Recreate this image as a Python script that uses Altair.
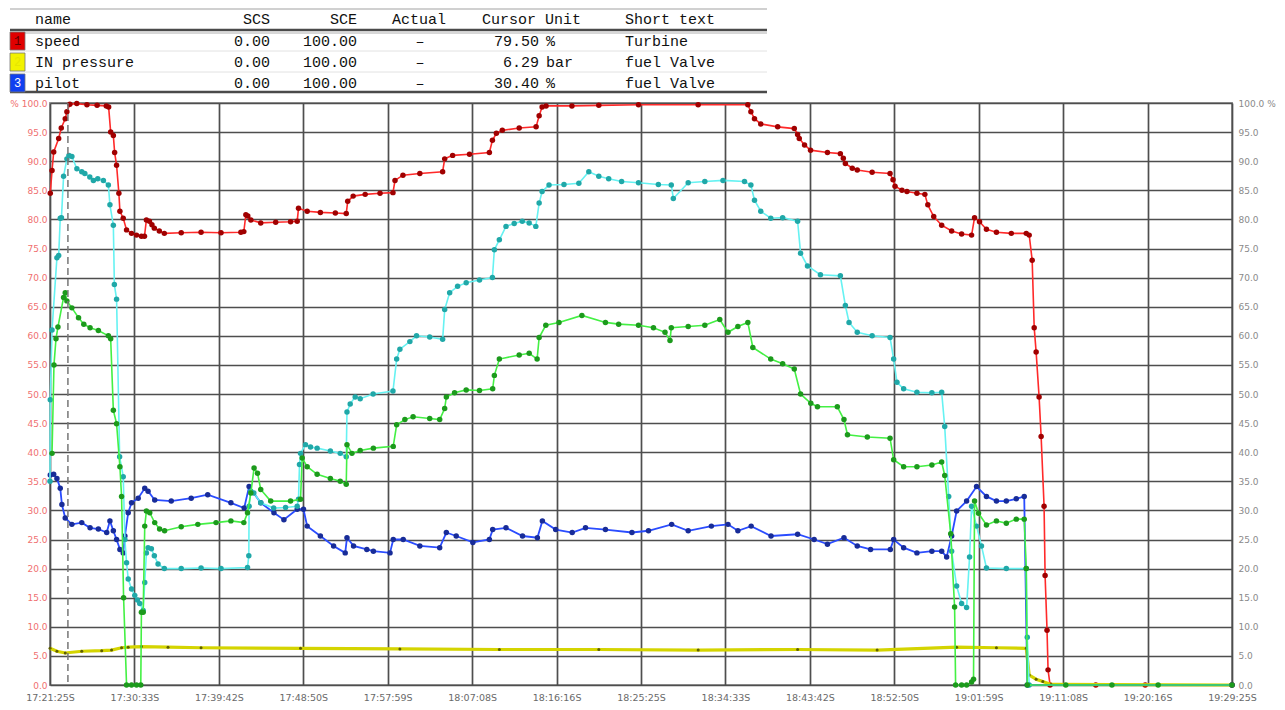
import altair as alt
import pandas as pd

# ---------------- axis / table text ----------------
x_tick_labels = ["17:21:25S", "17:30:33S", "17:39:42S", "17:48:50S", "17:57:59S",
                 "18:07:08S", "18:16:16S", "18:25:25S", "18:34:33S", "18:43:42S",
                 "18:52:50S", "19:01:59S", "19:11:08S", "19:20:16S", "19:29:25S"]
t_total = 128.0          # minutes from 17:21:25 to 19:29:25
cursor_t = 1.94          # dashed cursor position (minutes)

table_header = ["name", "SCS", "SCE", "Actual", "Cursor Unit", "Short text"]
table_names = ["speed", "IN pressure", "pilot"]
table_scs = ["0.00", "0.00", "0.00"]
table_sce = ["100.00", "100.00", "100.00"]
table_actual = ["–", "–", "–"]
table_cursor = ["79.50", "6.29", "30.40"]
table_unit = ["%", "bar", "%"]
table_short = ["Turbine", "fuel Valve", "fuel Valve"]
table_swatch = ["#e00000", "#f2f200", "#1040f0"]
table_swatch_txt = ["#5a0000", "#e6e600", "#ffffff"]

# ---------------- series (time in minutes after 17:21:25, value in %) ----------------
speed_t = [0.03, 0.22, 0.40, 0.94, 1.22, 1.65, 1.83, 2.15, 2.9, 4.0, 5.1, 6.1, 6.35, 6.57, 6.86, 7.0,
           7.21, 7.46, 7.57, 7.93, 8.29, 8.83, 9.37, 9.90, 10.23, 10.44, 10.77, 11.04, 11.30, 11.84,
           12.38, 14.21, 16.36, 18.52, 20.67, 20.99, 21.21, 21.42, 21.75, 22.82, 24.44, 26.05, 26.77,
           26.91, 27.85, 29.28, 30.9, 32.08, 32.24, 32.83, 34.13, 35.74, 37.14, 37.36, 38.22, 40.05,
           42.52, 42.74, 43.60, 45.43, 47.58, 47.91, 48.34, 48.98, 50.81, 52.64, 52.97, 53.29, 53.72,
           56.52, 59.43, 63.73, 70.19, 75.57, 75.90, 76.29, 76.97, 78.8, 80.60, 80.96, 81.14, 81.71,
           82.36, 84.19, 85.59, 85.91, 86.13, 86.88, 87.42, 89.03, 90.97, 91.29, 91.51, 92.26, 92.80,
           93.88, 94.74, 95.06, 95.70, 96.56, 97.64, 98.72, 99.80, 100.12, 100.66, 101.41, 102.49,
           104.10, 105.72, 106.04, 106.36, 106.58, 106.79, 107.11, 107.33, 107.65, 107.76, 107.97,
           108.08, 108.30, 113.25, 118.6, 128.0]
speed_v = [84.5, 88.4, 91.6, 93.9, 95.7, 97.3, 98.5, 99.8, 99.9, 99.7, 99.6, 99.5, 99.3, 95.0, 94.4, 91.5,
           89.3, 84.5, 81.4, 80.2, 78.2, 77.6, 77.3, 77.1, 77.1, 79.9, 79.7, 79.1, 78.5, 78.0,
           77.6, 77.7, 77.8, 77.7, 77.8, 77.9, 80.8, 80.6, 79.9, 79.4, 79.5, 79.6, 79.7,
           81.9, 81.4, 81.2, 81.1, 81.0, 83.1, 84.0, 84.3, 84.5, 84.6, 86.7, 87.6, 87.9,
           88.2, 90.4, 91.0, 91.2, 91.5, 93.6, 94.8, 95.3, 95.7, 95.9, 97.8, 99.3, 99.5,
           99.5, 99.6, 99.7, 99.7, 99.7, 98.5, 97.3, 96.4, 95.9, 95.6, 94.6, 93.9, 92.8,
           91.9, 91.5, 91.3, 90.5, 89.6, 88.8, 88.5, 88.1, 87.9, 86.8, 85.7, 85.0, 84.8,
           84.5, 84.3, 82.5, 80.5, 79.0, 78.0, 77.5, 77.3, 80.3, 79.6, 78.3, 77.8,
           77.6, 77.6, 77.3, 73.0, 61.4, 57.2, 49.5, 42.7, 30.7, 18.8, 9.4,
           2.6, 0.0, 0.0, 0.0, 0.0]

pressure_t = [0.0, 0.75, 1.65, 3.44, 5.60, 6.67, 7.75, 8.47, 9.90, 12.78, 16.36, 27.13, 37.89, 48.66,
              59.43, 70.19, 80.96, 89.57, 98.18, 102.49, 105.72, 106.04, 106.79, 107.51, 108.41, 128.0]
pressure_v = [6.3, 5.8, 5.5, 5.8, 5.9, 6.0, 6.4, 6.5, 6.6, 6.5, 6.4, 6.3, 6.2, 6.1,
              6.1, 6.0, 6.1, 6.0, 6.5, 6.4, 6.3, 1.7, 1.0, 0.6, 0.1, 0.0]

pilot_t = [0.03, 0.40, 0.75, 1.11, 1.29, 1.65, 2.37, 3.44, 4.34, 5.24, 6.14, 6.49, 6.86, 7.21, 7.57,
           7.93, 8.11, 8.47, 8.83, 9.55, 10.26, 10.62, 11.34, 13.13, 15.29, 17.08, 19.59, 21.03,
           21.56, 22.82, 24.25, 25.33, 26.77, 27.45, 27.85, 29.28, 30.71, 31.97, 32.16, 32.87,
           34.31, 35.02, 36.82, 37.17, 38.25, 40.05, 42.20, 42.92, 43.99, 45.79, 47.58, 47.94,
           49.38, 51.17, 52.78, 53.32, 54.76, 56.55, 57.99, 60.15, 63.02, 64.81, 67.32, 69.11,
           71.62, 73.42, 74.49, 75.93, 78.08, 80.96, 82.75, 84.19, 85.98, 87.42, 88.86, 91.00,
           91.36, 92.44, 93.88, 95.50, 96.56, 97.10, 97.64, 98.18, 99.26, 100.34, 101.41, 102.49,
           103.56, 104.64, 105.50, 105.83, 128.0]
pilot_v = [36.1, 36.2, 35.5, 33.8, 31.0, 28.7, 27.6, 27.9, 27.0, 26.8, 26.2, 28.2, 26.5, 25.0, 23.3,
           22.7, 25.6, 29.6, 31.3, 32.1, 33.8, 33.3, 31.8, 31.6, 32.1, 32.7, 31.3, 30.4,
           34.1, 31.3, 29.6, 28.4, 30.2, 30.2, 27.3, 25.6, 23.9, 22.7, 25.3, 23.9,
           23.3, 23.0, 22.7, 25.0, 25.0, 23.9, 23.6, 26.2, 25.6, 24.5, 25.0, 26.7,
           27.0, 25.6, 25.3, 28.2, 26.7, 26.2, 27.0, 26.7, 26.2, 26.5, 27.6, 26.5,
           27.3, 27.6, 26.5, 27.3, 25.6, 25.9, 25.0, 24.2, 25.3, 23.9, 23.3, 23.3,
           25.0, 23.6, 22.7, 23.0, 23.0, 22.0, 25.6, 29.9, 31.6, 34.1, 32.4, 31.6,
           31.6, 32.0, 32.4, 0.0, 0.0]

cyan_t = [0.0, 0.03, 0.22, 0.75, 0.94, 1.11, 1.24, 1.47, 1.83, 2.05, 2.37, 2.91, 3.44, 3.77, 4.31,
          4.70, 5.17, 5.78, 6.32, 6.49, 6.86, 6.97, 7.21, 7.54, 7.93, 8.11, 8.29, 8.47, 8.83, 9.18,
          9.47, 9.72, 10.09, 10.26, 10.44, 10.62, 10.98, 11.30, 11.70, 12.38, 14.21, 16.36, 18.52,
          21.39, 21.53, 21.56, 21.75, 22.07, 22.82, 24.22, 25.51, 26.77, 26.91, 27.02, 27.13,
          27.67, 28.21, 28.93, 30.36, 31.43, 32.08, 32.16, 32.51, 33.05, 33.59, 34.99, 37.14,
          37.54, 37.89, 38.97, 39.69, 41.12, 42.52, 42.74, 43.28, 44.14, 45.07, 46.51, 47.91,
          48.12, 48.66, 49.38, 50.27, 51.14, 51.89, 52.61, 52.97, 53.29, 54.04, 55.66, 57.27,
          58.35, 59.43, 60.50, 61.90, 63.73, 65.88, 67.28, 67.50, 69.11, 70.91, 72.88, 75.21,
          75.90, 76.29, 76.97, 78.05, 79.34, 80.96, 81.28, 82.03, 83.43, 85.59, 86.13, 86.53,
          87.42, 89.03, 90.97, 91.36, 91.72, 92.44, 93.88, 95.50, 96.56, 96.89, 97.32, 97.64,
          98.18, 98.72, 99.26, 99.58, 99.80, 100.34, 100.87, 101.41, 103.56, 105.72, 105.83,
          106.04]
cyan_v = [35.0, 49.0, 61.0, 73.4, 73.8, 80.2, 80.3, 87.4, 90.4, 91.0, 90.8, 88.7, 88.2, 87.9, 87.3,
          86.7, 87.0, 86.7, 85.9, 82.5, 79.0, 68.8, 66.3, 39.2, 35.8, 25.0, 21.0, 18.2, 16.5, 15.4,
          14.6, 14.0, 12.8, 17.6, 22.7, 23.6, 23.4, 22.2, 20.8, 20.0, 20.0, 20.1, 20.0,
          20.2, 22.2, 30.7, 33.3, 33.0, 31.3, 30.4, 30.5, 30.7, 31.9, 37.9, 39.8,
          41.3, 40.9, 40.7, 40.2, 39.8, 39.2, 46.9, 48.3, 49.5, 49.2, 50.0, 50.5,
          56.0, 57.7, 59.0, 60.0, 59.8, 59.4, 64.5, 67.4, 68.5, 69.1, 69.6, 70.0,
          74.8, 76.5, 78.8, 79.3, 79.7, 79.4, 78.8, 82.8, 84.8, 85.9, 86.0, 86.2,
          88.2, 87.4, 87.0, 86.5, 86.3, 86.0, 85.9, 83.6, 86.3, 86.5, 86.7, 86.5,
          85.9, 83.3, 81.4, 80.2, 80.3, 79.7, 74.2, 72.0, 70.5, 70.3, 65.2, 62.3,
          60.6, 60.0, 59.7, 56.0, 52.0, 50.9, 50.3, 50.2, 50.3, 44.4, 32.4, 23.0,
          17.0, 14.0, 13.3, 22.0, 30.7, 27.3, 23.9, 20.1, 20.0, 20.0, 8.2,
          0.0]

green_t = [0.22, 0.43, 0.65, 0.86, 1.47, 1.65, 1.83, 2.37, 3.09, 3.66, 4.34, 5.24, 6.32, 6.57, 6.86,
           7.21, 7.57, 7.75, 7.97, 8.29, 8.83, 9.37, 9.83, 9.90, 10.09, 10.26, 10.44, 10.80, 11.34,
           11.87, 12.41, 14.21, 16.01, 17.98, 19.59, 20.99, 21.39, 21.75, 22.10, 22.47, 22.82,
           23.90, 26.05, 27.13, 27.31, 27.85, 28.93, 30.36, 31.43, 32.08, 32.16, 32.70, 33.59,
           35.02, 37.17, 37.54, 38.43, 39.32, 41.12, 42.20, 42.74, 42.92, 43.81, 45.07, 46.51,
           47.94, 48.12, 48.66, 50.81, 51.89, 52.75, 52.97, 53.69, 55.12, 57.60, 60.15, 61.58,
           63.73, 65.35, 66.60, 67.14, 67.28, 69.11, 70.91, 72.53, 73.42, 74.49, 75.57, 76.11,
           78.05, 79.34, 80.60, 81.28, 82.39, 83.11, 85.26, 85.98, 86.36, 88.51, 90.97, 91.36,
           92.44, 93.88, 95.50, 96.56, 96.89, 97.54, 97.96, 98.07, 98.72, 99.26, 99.80, 100.01,
           100.12, 100.55, 101.41, 102.49, 103.56, 104.64, 105.50, 105.72, 105.83, 110.0, 115.0,
           120.0, 128.0]
green_v = [39.8, 55.0, 59.5, 61.5, 66.6, 67.4, 66.0, 64.8, 63.1, 62.0, 61.4, 60.9, 60.0, 59.5, 47.2,
           44.9, 37.5, 32.4, 15.0, 0.0, 0.0, 0.0, 0.0, 12.5, 12.5, 27.3, 29.9, 29.6, 27.9,
           26.8, 26.5, 27.2, 27.6, 27.9, 28.2, 27.9, 29.6, 33.0, 37.3, 36.4, 33.6,
           31.6, 31.6, 31.9, 39.0, 37.5, 36.2, 35.5, 35.0, 34.5, 41.3, 39.8, 40.3,
           40.7, 41.0, 44.7, 45.6, 46.1, 45.8, 45.6, 47.5, 49.5, 50.2, 50.7, 50.6,
           50.9, 53.2, 56.0, 56.7, 57.0, 56.0, 59.7, 61.8, 62.3, 63.5, 62.3, 62.0,
           61.8, 61.4, 60.6, 59.2, 61.4, 61.6, 61.8, 62.8, 60.6, 61.6, 62.3, 58.0,
           56.0, 55.2, 54.3, 50.0, 48.4, 47.8, 47.8, 45.6, 43.0, 42.6, 42.4, 38.7,
           37.5, 37.5, 37.8, 38.3, 36.0, 26.0, 13.4, 0.0, 0.0, 0.0, 0.5, 1.0,
           31.6, 29.5, 27.5, 28.2, 27.8, 28.5, 28.5, 20.0, 0.0, 0.0, 0.0,
           0.0, 0.0]

# name, times, values, line colour, marker colour, marker size, line width
series = [
    ("speed", speed_t, speed_v, "#ff2a2a", "#a00000", 30, 1.6),
    ("IN pressure", pressure_t, pressure_v, "#d4d400", "#5e5e00", 9, 3.2),
    ("pilot", pilot_t, pilot_v, "#2a4cff", "#182c98", 30, 1.8),
    ("cyan", cyan_t, cyan_v, "#66f2f2", "#20a8a8", 30, 1.6),
    ("green", green_t, green_v, "#44f044", "#1c9a1c", 30, 1.6),
]

W, H = 1182, 582
tick_minutes = [i * t_total / 14 for i in range(15)]
labels_js = "[" + ",".join("'%s'" % s for s in x_tick_labels) + "]"

xenc = alt.X("t:Q",
             scale=alt.Scale(domain=[0, t_total], nice=False, zero=False),
             axis=alt.Axis(values=tick_minutes,
                           labelExpr=labels_js + "[round(datum.value*14/%s)]" % t_total,
                           grid=True, gridColor="#4e4e4e", gridWidth=1.7,
                           ticks=False, domain=False, title=None,
                           labelFont="DejaVu Sans", labelFontSize=9.5, labelColor="#6a6a6a",
                           labelPadding=7, labelFlush=False))
yscale = alt.Scale(domain=[0, 100], nice=False, zero=False)
yvals = list(range(0, 101, 5))

axis_left = alt.Axis(values=yvals, grid=True, gridColor="#4e4e4e", gridWidth=1.7,
                     ticks=False, domain=False, title=None,
                     labelExpr="datum.value == 100 ? '% 100.0' : format(datum.value, '.1f')",
                     labelFont="DejaVu Sans", labelFontSize=9, labelColor="#f07070", labelPadding=3)
axis_right = alt.Axis(values=yvals, grid=False, orient="right",
                      ticks=False, domain=False, title=None,
                      labelExpr="datum.value == 100 ? '100.0 %' : format(datum.value, '.1f')",
                      labelFont="DejaVu Sans", labelFontSize=9, labelColor="#8a8a8a", labelPadding=6)

layers = []
first = True
for name, ts, vs, lc, pc, ps, lw in series:
    df = pd.DataFrame({"t": ts, "v": vs})
    yax = axis_left if first else None
    first = False
    line = alt.Chart(df).mark_line(color=lc, strokeWidth=lw).encode(
        x=xenc, y=alt.Y("v:Q", scale=yscale, axis=yax))
    pts = alt.Chart(df).mark_circle(color=pc, size=ps, opacity=1).encode(
        x=xenc, y=alt.Y("v:Q", scale=yscale, axis=None))
    layers += [line, pts]

# right-hand axis (invisible carrier layer)
layers.append(alt.Chart(pd.DataFrame({"t": pressure_t, "v": pressure_v})).mark_line(opacity=0).encode(
    x=xenc, y=alt.Y("v:Q", scale=yscale, axis=axis_right)))

# cursor
layers.append(alt.Chart(pd.DataFrame({"t": [cursor_t]})).mark_rule(
    color="#777777", strokeWidth=1.5, strokeDash=[7, 4]).encode(
    x=xenc, y=alt.value(0), y2=alt.value(H)))

# ---------------- header table ----------------
def txt(s, x, y, align="left", color="#111111", size=15, font="Liberation Mono"):
    return alt.Chart(alt.Data(values=[{"s": s}])).mark_text(
        align=align, baseline="middle", font=font, fontSize=size, color=color).encode(
        x=alt.value(x), y=alt.value(y), text="s:N")

def hline(x0, x1, y, color, w):
    return alt.Chart(alt.Data(values=[{"a": 1}])).mark_rule(color=color, strokeWidth=w).encode(
        x=alt.value(x0), x2=alt.value(x1), y=alt.value(y))

def box(x0, x1, y0, y1, color):
    return alt.Chart(alt.Data(values=[{"a": 1}])).mark_rect(color=color, stroke="#777777", strokeWidth=0.8).encode(
        x=alt.value(x0), x2=alt.value(x1), y=alt.value(y0), y2=alt.value(y1))

hy = -84
rows_y = [-62, -41, -20]
layers.append(hline(-40, 717, -94, "#c0c0c0", 1.5))
layers.append(hline(-40, 717, -73, "#4a4a4a", 2.5))
layers.append(hline(-40, 717, -70, "#b0b0b0", 1))
layers.append(hline(-40, 717, -52, "#e2e2e2", 1))
layers.append(hline(-40, 717, -31, "#e2e2e2", 1))
layers.append(hline(-40, 717, -11, "#4a4a4a", 2.5))

layers.append(txt(table_header[0], -15, hy))
layers.append(txt(table_header[1], 220, hy, "right"))
layers.append(txt(table_header[2], 307, hy, "right"))
layers.append(txt(table_header[3], 342, hy))
layers.append(txt(table_header[4], 432, hy))
layers.append(txt(table_header[5], 575, hy))

for i, ry in enumerate(rows_y):
    layers.append(box(-40, -25, ry - 9, ry + 9, table_swatch[i]))
    layers.append(txt(str(i + 1), -32.5, ry, "center", table_swatch_txt[i], 12))
    layers.append(txt(table_names[i], -15, ry))
    layers.append(txt(table_scs[i], 220, ry, "right"))
    layers.append(txt(table_sce[i], 307, ry, "right"))
    layers.append(txt(table_actual[i], 370, ry, "center"))
    layers.append(txt(table_cursor[i], 489, ry, "right"))
    layers.append(txt(table_unit[i], 496, ry))
    layers.append(txt(table_short[i], 575, ry))

chart = alt.layer(*layers).resolve_axis(y="independent").properties(
    width=W, height=H, padding=0, background="white"
).configure_view(stroke="#9a9a9a", strokeWidth=2)

chart.save("out.html", embed_options={"renderer": "svg", "actions": False})
